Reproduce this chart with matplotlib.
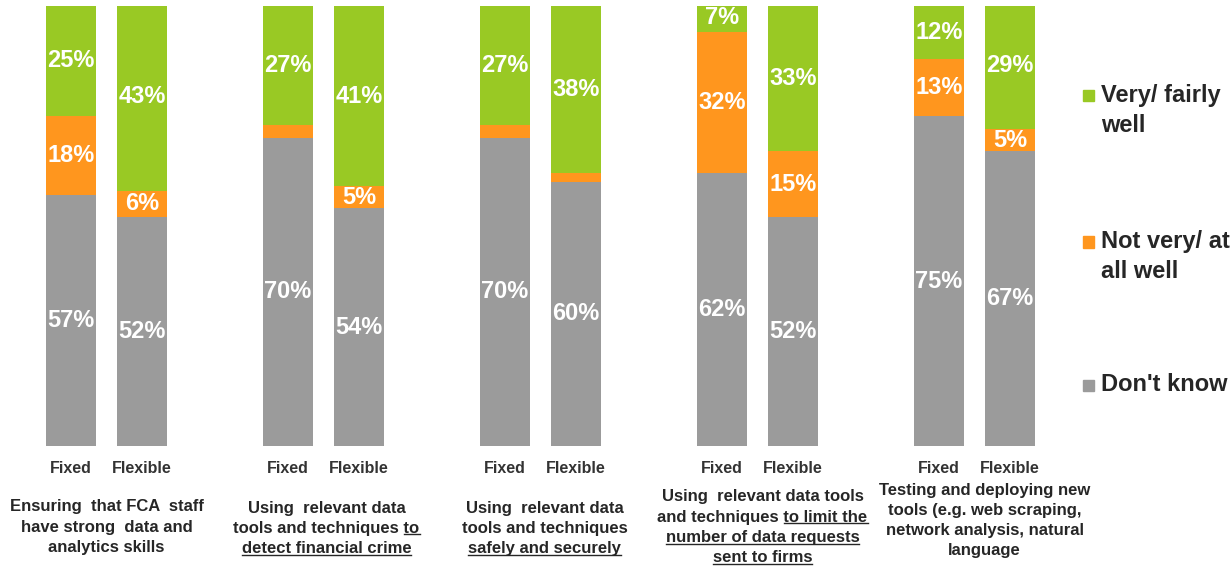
import numpy as np
import matplotlib.pyplot as plt
from matplotlib.lines import Line2D
from matplotlib.patches import Rectangle

plt.rcParams['font.family'] = ['Liberation Sans', 'DejaVu Sans']

# data
bar_labels = ["Fixed", "Flexible"]
series_names = ["Very/ fairly\nwell", "Not very/ at\nall well", "Don't know"]
series_colors = ["#99C924", "#FF961E", "#9B9B9B"]

fixed_dont_know = [57, 70, 70, 62, 75]
fixed_not_well = [18, 3, 3, 32, 13]
fixed_well = [25, 27, 27, 7, 12]

flex_dont_know = [52, 54, 60, 52, 67]
flex_not_well = [6, 5, 2, 15, 5]
flex_well = [43, 41, 38, 33, 29]

# each line: (text, underlined tail)
category_lines = [
    [("Ensuring  that FCA  staff", ""), ("have strong  data and", ""),
     ("analytics skills", "")],
    [("Using  relevant data", ""), ("tools and techniques to", "to"),
     ("detect financial crime", "detect financial crime")],
    [("Using  relevant data", ""), ("tools and techniques", ""),
     ("safely and securely", "safely and securely")],
    [("Using  relevant data tools", ""),
     ("and techniques to limit the", "to limit the"),
     ("number of data requests", "number of data requests"),
     ("sent to firms", "sent to firms")],
    [("Testing and deploying new", ""), ("tools (e.g. web scraping,", ""),
     ("network analysis, natural", ""), ("language", "")],
]

W, H = 1231, 566
fig = plt.figure(figsize=(W / 100, H / 100), dpi=100)
ax = fig.add_axes([0, 120 / H, 1070 / W, 440 / H])

fixed_x = np.arange(5) * (217 / 71)
flex_x = fixed_x + 1.0
bw = 0.70


def stack(x, dk, nw, vw):
    dk = np.array(dk)
    nw = np.array(nw)
    vw = np.array(vw)
    for vals, bottom, col in [(dk, 0, series_colors[2]),
                              (nw, dk, series_colors[1]),
                              (vw, dk + nw, series_colors[0])]:
        ax.bar(x, vals, bw, bottom=bottom, color=col, edgecolor='none')
        b = np.zeros(len(vals)) + bottom
        for xi, v, bi in zip(x, vals, b):
            if v >= 5:
                ax.text(xi, bi + v / 2, f"{v}%", ha='center', va='center',
                        color='white', fontsize=17, fontweight='bold')


stack(fixed_x, fixed_dont_know, fixed_not_well, fixed_well)
stack(flex_x, flex_dont_know, flex_not_well, flex_well)

ax.set_xlim(-1.0, 1070 / 71 - 1.0)
ax.set_ylim(0, 100)
ax.set_yticks([])
xs = np.ravel(np.column_stack([fixed_x, flex_x]))
ax.set_xticks(xs)
ax.set_xticklabels(bar_labels * 5, fontsize=11.5, fontweight='bold',
                   color='#333333')
ax.tick_params(axis='x', length=0, pad=11)
for s in ax.spines.values():
    s.set_visible(False)

# category labels under each pair
top_y = [507, 508, 508, 497, 490]
x_shift = [0, 3, 4, 5, 10]
line_gap = 20.3
renderer = fig.canvas.get_renderer()
for g, lines in enumerate(category_lines):
    cx = ax.transData.transform(((fixed_x[g] + flex_x[g]) / 2, 0))[0]
    cx += x_shift[g]
    for i, (txt, ul) in enumerate(lines):
        py = top_y[g] + i * line_gap
        t = fig.text(cx / W, 1 - py / H, txt, ha='center', va='center',
                     fontsize=12, fontweight='bold', color='#262626')
        if ul:
            bb = t.get_window_extent(renderer)
            tmp = fig.text(0, 0, ul, fontsize=12, fontweight='bold')
            uw = tmp.get_window_extent(renderer).width
            tmp.remove()
            uy = bb.y0 + 1.5
            fig.add_artist(Line2D([(bb.x1 - uw) / W, bb.x1 / W],
                                  [uy / H, uy / H], color='#262626',
                                  lw=1.0, transform=fig.transFigure))

# legend
leg_y = [96, 242, 385]
for name, col, y in zip(series_names, series_colors, leg_y):
    fig.add_artist(Rectangle((1083 / W, 1 - (y + 5.5) / H), 11 / W, 11 / H,
                             color=col, transform=fig.transFigure))
    fig.text(1101 / W, 1 - (y - 12) / H, name, ha='left', va='top',
             fontsize=17, fontweight='bold', color='#262626',
             linespacing=1.4)

fig.savefig("out.png", dpi=100)
